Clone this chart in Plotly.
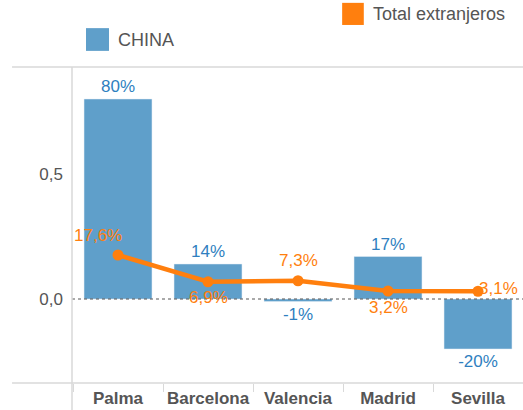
import plotly.graph_objects as go

cities = ["Palma", "Barcelona", "Valencia", "Madrid", "Sevilla"]
china = [0.80, 0.14, -0.01, 0.17, -0.20]
total_extranjeros = [0.176, 0.069, 0.073, 0.032, 0.031]
y_ticks = [0.0, 0.5]

BAR = "#5f9fca"
BAR_TXT = "#2f7fc0"
ORANGE = "#ff7f0e"
GREY = "#555555"
LIGHT = "#d9d9d9"
FONT = "Liberation Sans, Arial, sans-serif"

fig = go.Figure()
fig.add_trace(go.Bar(
    x=cities, y=china, marker_color=BAR, width=0.755,
    texttemplate="%{y:.0%}", textposition="outside",
    textfont=dict(color=BAR_TXT, size=17, family=FONT),
    cliponaxis=False, showlegend=False, name="CHINA",
))
fig.add_trace(go.Scatter(
    x=cities, y=total_extranjeros, mode="lines+markers",
    line=dict(color=ORANGE, width=4.5), marker=dict(color=ORANGE, size=11),
    cliponaxis=False, showlegend=False, name="Total extranjeros",
))

# line value labels
offsets = [(-20, 20), (0, -16), (0, 20), (0, -16), (20, 3)]
for c, v, (dx, dy) in zip(cities, total_extranjeros, offsets):
    fig.add_annotation(x=c, y=v, text=f"{v*100:.1f}%".replace(".", ","),
                       showarrow=False, xshift=dx, yshift=dy,
                       font=dict(color=ORANGE, size=17, family=FONT))

shapes = [
    dict(type="line", xref="paper", yref="y", x0=0, x1=1, y0=0, y1=0,
         line=dict(color=GREY, width=1, dash="dot")),
    dict(type="line", xref="paper", yref="paper", x0=-0.133, x1=1, y0=1, y1=1,
         line=dict(color=LIGHT, width=1.5)),
    dict(type="line", xref="paper", yref="paper", x0=-0.133, x1=1, y0=0, y1=0,
         line=dict(color=LIGHT, width=1.5)),
    dict(type="line", xref="paper", yref="paper", x0=0, x1=0, y0=1, y1=-0.09,
         line=dict(color=LIGHT, width=1.5)),
    # legend squares
    dict(type="rect", xref="paper", yref="paper", x0=0.031, x1=0.082, y0=1.051, y1=1.123,
         fillcolor=BAR, line=dict(width=0)),
    dict(type="rect", xref="paper", yref="paper", x0=0.599, x1=0.647, y0=1.133, y1=1.203,
         fillcolor=ORANGE, line=dict(width=0)),
]
fig.add_annotation(xref="paper", yref="paper", x=0.0976, y=1.087, xanchor="left",
                   yanchor="middle",
                   text="CHINA", showarrow=False, font=dict(color=GREY, size=18, family=FONT))
fig.add_annotation(xref="paper", yref="paper", x=0.662, y=1.168, xanchor="left",
                   yanchor="middle",
                   text="Total extranjeros", showarrow=False,
                   font=dict(color=GREY, size=18, family=FONT))

fig.update_layout(
    width=523, height=410,
    margin=dict(l=72, r=0, t=67, b=27),
    paper_bgcolor="white", plot_bgcolor="white",
    separators=",.",
    shapes=shapes,
    font=dict(family=FONT, color=GREY),
    xaxis=dict(showgrid=False, showline=False, zeroline=False, automargin=False,
               tickangle=0, ticklabelstandoff=3,
               ticks="outside", tickson="boundaries", ticklen=8, tickcolor=LIGHT,
               tickfont=dict(size=17, color=GREY, family=FONT, weight="bold")),
    yaxis=dict(range=[-0.336, 0.928], tickvals=y_ticks, tickformat=".1f",
               showgrid=False, zeroline=False, showline=False, automargin=False,
               ticklabelstandoff=8,
               tickfont=dict(size=17, color=GREY, family=FONT)),
)
fig.write_html("out.html", config={"displayModeBar": False},
               post_script="document.body.style.margin='0';")
